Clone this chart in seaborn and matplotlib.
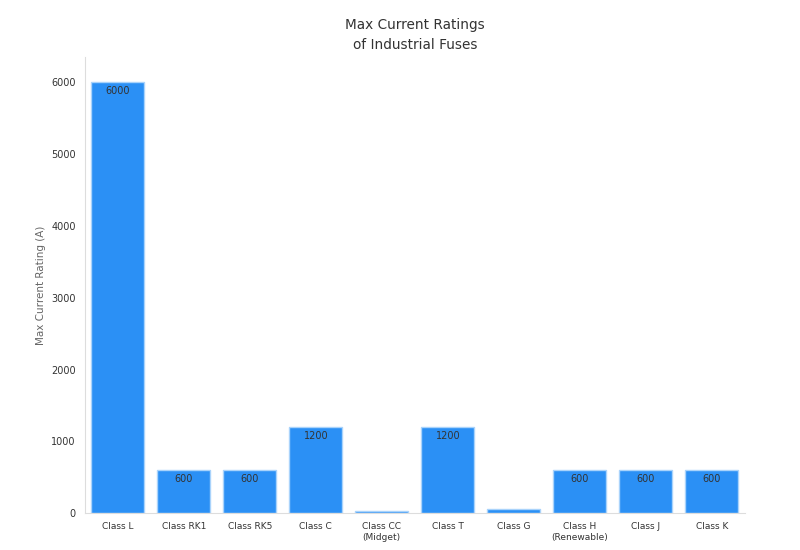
import numpy as np
import pandas as pd
import matplotlib
matplotlib.use("Agg")
import matplotlib.pyplot as plt
import seaborn as sns

# Fuse classes and their max current ratings (A)
fuse_classes = ["Class L", "Class RK1", "Class RK5", "Class C", "Class CC\n(Midget)",
                "Class T", "Class G", "Class H\n(Renewable)", "Class J", "Class K"]
max_current = [6000, 600, 600, 1200, 30, 1200, 60, 600, 600, 600]

df = pd.DataFrame({"fuse": fuse_classes, "rating": max_current})

sns.set_style("white")
plt.rcParams['font.family'] = ['DejaVu Sans']

fig = plt.figure(figsize=(8, 5.5), dpi=100)
ax = fig.add_axes([0.106, 0.067, 0.825, 0.829])

sns.barplot(data=df, x="fuse", y="rating", color="#2b90f5", saturation=1,
            edgecolor="#a9d3fb", linewidth=1, width=0.8, ax=ax)

# value labels just inside the top of each bar (clipped by the axes)
for cont in ax.containers:
    texts = ax.bar_label(cont, labels=[str(v) for v in max_current], label_type="edge",
                         padding=-10, fontsize=7, color="#333333")
    for t in texts:
        t.set_clip_on(True)
        t.set_clip_box(ax.bbox)

ax.set_ylim(0, 6350)
ax.set_title("Max Current Ratings\nof Industrial Fuses", fontsize=9.8, color="#333333",
             pad=6, linespacing=1.55)
ax.set_ylabel("Max Current Rating (A)", fontsize=7.5, color="#666666")
ax.set_xlabel("")
ax.tick_params(axis="both", labelsize=6.5, colors="#333333", length=3, width=0.6)
ax.tick_params(axis="y", labelsize=7)
ax.tick_params(axis="both", color="#999999")

for side in ["top", "right"]:
    ax.spines[side].set_visible(False)
for side in ["left", "bottom"]:
    ax.spines[side].set_color("#dddddd")
    ax.spines[side].set_linewidth(0.8)

fig.savefig("out.png", dpi=100)
